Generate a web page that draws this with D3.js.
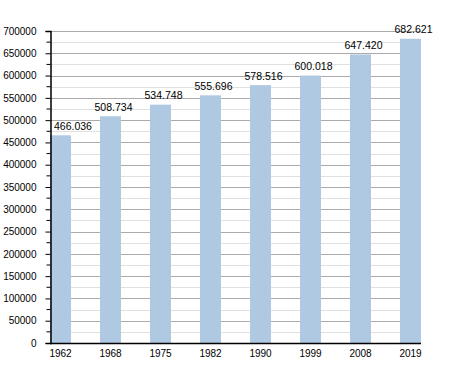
<!DOCTYPE html>
<html>
<head>
<meta charset="utf-8">
<script src="https://cdn.jsdelivr.net/npm/d3@7"></script>
<style>
  body { margin: 0; background: #fff; }
  text { font-family: "Liberation Sans", Arial, sans-serif; font-size: 10px; fill: #000; }
  .value-label { font-size: 10.5px; }
</style>
</head>
<body>
<div id="container"></div>
<script>
var years = ["1962", "1968", "1975", "1982", "1990", "1999", "2008", "2019"];
var population = [466036, 508734, 534748, 555696, 578516, 600018, 647420, 682621];
var yTicks = [0, 50000, 100000, 150000, 200000, 250000, 300000, 350000,
              400000, 450000, 500000, 550000, 600000, 650000, 700000];

var chartWidth = 450, chartHeight = 373;
var plotLeft = 50, plotRight = 421, plotTop = 31, plotBottom = 343;

var chart = d3.select("#container").
  append("svg").
  attr("width", chartWidth).
  attr("height", chartHeight);

var x = d3.scaleBand().
  domain(years).
  range([plotLeft, plotLeft + 50 * years.length]);
var barWidth = x.bandwidth() * 0.42;

var y = d3.scaleLinear().
  domain([0, 700000]).
  range([plotBottom, plotTop]);

// minor grid lines every 25000
var minor = d3.range(25000, 700000, 50000);
chart.append("g").selectAll("line").
  data(minor).
  enter().
  append("line").
  attr("x1", plotLeft).attr("x2", plotRight).
  attr("y1", function (d) {return Math.round(y(d)) + 0.5;}).
  attr("y2", function (d) {return Math.round(y(d)) + 0.5;}).
  attr("stroke", "#e0e0e0");

// major grid lines
chart.append("g").selectAll("line").
  data(yTicks.slice(1)).
  enter().
  append("line").
  attr("x1", plotLeft).attr("x2", plotRight).
  attr("y1", function (d) {return Math.round(y(d)) + 0.5;}).
  attr("y2", function (d) {return Math.round(y(d)) + 0.5;}).
  attr("stroke", "#ababab");

// bars
chart.append("g").selectAll("rect").
  data(population).
  enter().
  append("rect").
  attr("x", function (d, i) {return x(years[i]);}).
  attr("width", barWidth).
  attr("y", function (d) {return y(d);}).
  attr("height", function (d) {return plotBottom - y(d);}).
  attr("fill", "#b0c9e3");

// value labels (dot as thousands separator), kept clear of the y axis
var fmt = d3.formatLocale({decimal: ",", thousands: ".", grouping: [3], currency: ["", ""]}).format(",");
chart.append("g").selectAll("text").
  data(population).
  enter().
  append("text").
  attr("class", "value-label").
  attr("text-anchor", "middle").
  attr("y", function (d) {return y(d) - 5.5;}).
  text(function (d) {return fmt(d);}).
  attr("x", function (d, i) {
    var half = this.getComputedTextLength() / 2;
    return Math.max(x(years[i]) + barWidth / 2 + 3, plotLeft + 4 + half);
  });

// y axis
var yAxis = d3.axisLeft(y).
  tickValues(yTicks).
  tickFormat(d3.format("d")).
  tickSize(5).
  tickPadding(9);
var ya = chart.append("g").
  attr("transform", "translate(" + (plotLeft + 0.5) + ",0)").
  call(yAxis);
ya.attr("font-size", null).attr("font-family", null);
ya.select(".domain").attr("stroke", "#000").attr("stroke-width", 1.5);
ya.selectAll(".tick line").attr("stroke", "#000");
// minor ticks
ya.selectAll(".minor").
  data(minor).
  enter().
  append("line").
  attr("class", "minor").
  attr("x1", -4).attr("x2", 0).
  attr("y1", function (d) {return y(d);}).
  attr("y2", function (d) {return y(d);}).
  attr("stroke", "#000");

// x axis
chart.append("line").
  attr("x1", plotLeft).attr("x2", plotRight).
  attr("y1", plotBottom + 0.5).attr("y2", plotBottom + 0.5).
  attr("stroke", "#000").attr("stroke-width", 1.5);
chart.append("g").selectAll("text").
  data(years).
  enter().
  append("text").
  attr("x", function (d) {return x(d) + barWidth / 2;}).
  attr("y", plotBottom + 14).
  attr("text-anchor", "middle").
  text(function (d) {return d;});
</script>
</body>
</html>
